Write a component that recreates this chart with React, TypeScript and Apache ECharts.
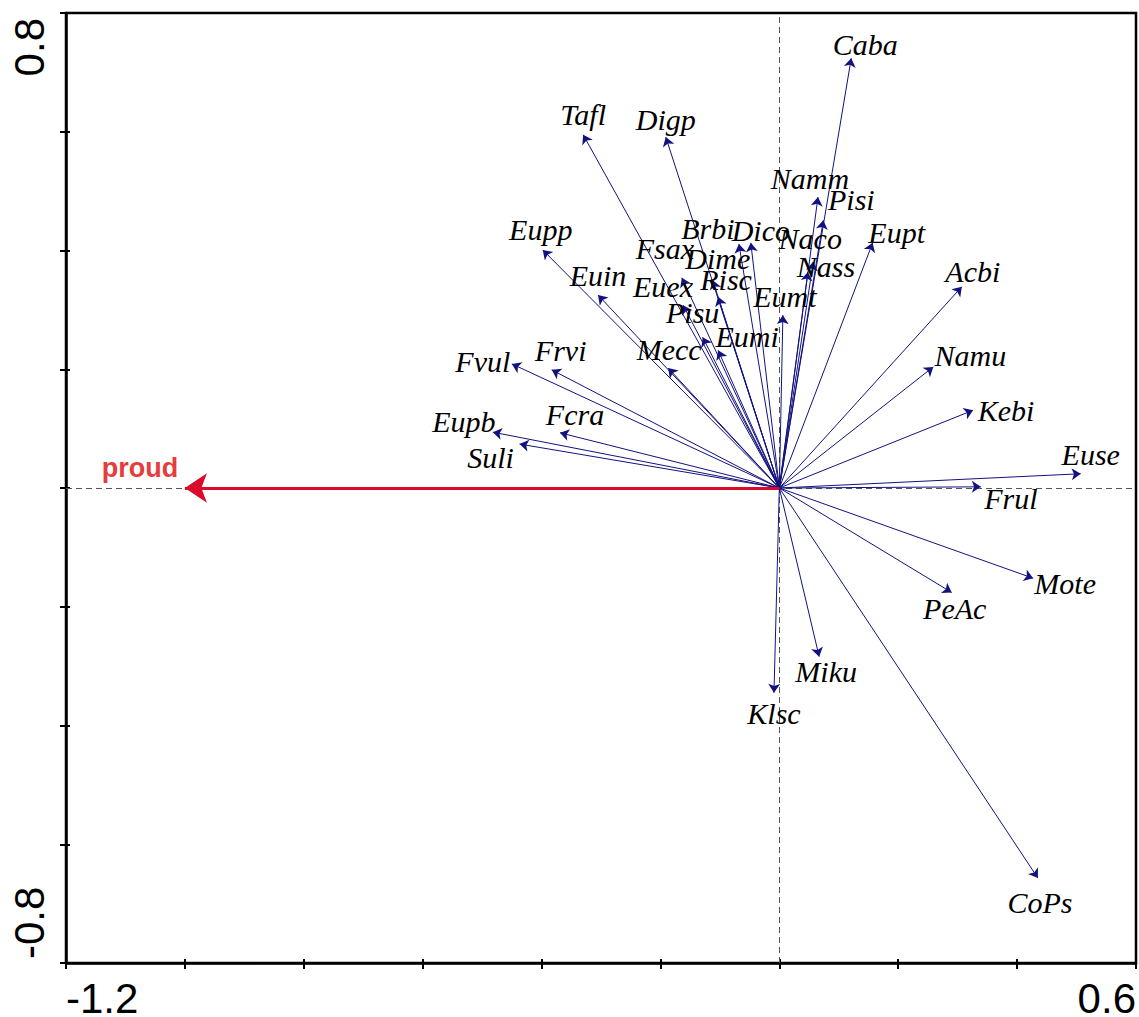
import React, { useEffect, useRef } from 'react';
import * as echarts from 'echarts';

// species scores (axis 1, axis 2)
const species = ['Caba','Tafl','Digp','Namm','Pisi','Naco','Nass','Eupt','Acbi','Namu','Kebi','Euse','Frul','Mote','PeAc','CoPs','Miku','Klsc','Eumt','Dico','Brbi','Fsax','Dime','Euex','Risc','Pisu','Eumi','Mecc','Euin','Eupp','Fvul','Frvi','Fcra','Eupb','Suli'];
const axis1 = [0.121,-0.330,-0.191,0.065,0.074,0.057,0.048,0.157,0.307,0.259,0.326,0.507,0.339,0.427,0.290,0.435,0.067,-0.009,0.006,-0.048,-0.068,-0.164,-0.112,-0.162,-0.103,-0.129,-0.103,-0.187,-0.305,-0.398,-0.450,-0.383,-0.369,-0.482,-0.437];
const axis2 = [0.724,0.595,0.591,0.490,0.451,0.381,0.364,0.413,0.339,0.204,0.131,0.024,0.002,-0.152,-0.176,-0.657,-0.284,-0.345,0.291,0.413,0.411,0.354,0.350,0.308,0.322,0.254,0.232,0.202,0.325,0.401,0.209,0.199,0.093,0.094,0.074];

// label placement relative to arrow tip (pixels)
const labelDx = [14,0,0,-8,28,-3,18,24,11,37,33,10,30,32,3,2,7,0,2,10,-31,-17,5,-20,8,-10,29,1,0,-2,-29,9,15,-29,-29];
const labelDy = [-14,-20,-18,-19,-21,-23,-5,-10,-15,-11,0,-19,12,5,16,24,15,21,-19,-12,-15,-29,-22,-19,-17,-25,-14,-19,-20,-20,-2,-19,-18,-11,13];

// environmental variable
const envNames = ['proud'];
const envAxis1 = [-1.0];
const envAxis2 = [0.0];

const xRange = [-1.2, 0.6];
const yRange = [-0.8, 0.8];
const tickStep = 0.2;

const ARROW = '#12127f';
const RED = '#dc0a2c';

export default function App() {
  const ref = useRef<HTMLDivElement>(null);
  useEffect(() => {
    document.body.style.margin = '0';
    const chart = echarts.init(ref.current!, null, { renderer: 'svg' });
    const axisCommon = (pos: string, inside: boolean, len: number, showLine: boolean) => ({
      type: 'value',
      position: pos,
      interval: tickStep,
      axisLine: { show: showLine, onZero: false, lineStyle: { color: '#000', width: 2.5 } },
      axisTick: { show: true, inside, length: len, lineStyle: { color: '#000', width: 2 } },
      axisLabel: { show: false },
      splitLine: { show: false },
    });
    const labelBase = {
      show: true,
      position: 'inside',
      formatter: (p: any) => p.name,
      textBorderWidth: 0,
      textShadowBlur: 0,
      opacity: 1,
    };
    const option: any = {
      animation: false,
      backgroundColor: '#fff',
      grid: { left: 66, top: 13, width: 1070, height: 950, show: true, borderColor: '#000', borderWidth: 2.5, backgroundColor: 'transparent' },
      xAxis: [
        { ...axisCommon('bottom', false, 6, true), min: xRange[0], max: xRange[1] },
        { ...axisCommon('bottom', true, 4, false), min: xRange[0], max: xRange[1] },
      ],
      yAxis: [
        { ...axisCommon('left', false, 6, true), min: yRange[0], max: yRange[1] },
        { ...axisCommon('left', true, 4, false), min: yRange[0], max: yRange[1] },
      ],
      series: [
        {
          type: 'lines',
          coordinateSystem: 'cartesian2d',
          silent: true,
          symbol: ['none', 'none'],
          lineStyle: { type: [6, 4], color: '#555', width: 1, opacity: 1 },
          data: [
            { coords: [[0, yRange[0]], [0, yRange[1]]] },
            { coords: [[xRange[0], 0], [xRange[1], 0]] },
          ],
          z: 1,
        },
        {
          type: 'lines',
          coordinateSystem: 'cartesian2d',
          symbol: ['none', 'arrow'],
          symbolSize: 9,
          lineStyle: { color: ARROW, width: 1, opacity: 1 },
          data: species.map((s, i) => ({ name: s, coords: [[0, 0], [axis1[i], axis2[i]]] })),
          z: 3,
        },
        {
          type: 'lines',
          coordinateSystem: 'cartesian2d',
          symbol: ['none', 'arrow'],
          symbolSize: 22,
          lineStyle: { color: RED, width: 3, opacity: 1 },
          data: envNames.map((s, i) => ({ name: s, coords: [[0, 0], [envAxis1[i], envAxis2[i]]] })),
          z: 4,
        },
        {
          type: 'scatter',
          symbolSize: 0,
          silent: true,
          itemStyle: { opacity: 1 },
          z: 5,
          label: {
            ...labelBase,
            fontFamily: 'Liberation Serif',
            fontStyle: 'italic',
            fontSize: 30,
            color: '#000',
          },
          data: species.map((s, i) => ({
            name: s,
            value: [axis1[i], axis2[i]],
            label: { offset: [labelDx[i], labelDy[i]] },
          })),
        },
        {
          type: 'scatter',
          symbolSize: 0,
          silent: true,
          itemStyle: { opacity: 1 },
          z: 5,
          label: {
            ...labelBase,
            fontFamily: 'Liberation Sans',
            fontWeight: 'bold',
            fontSize: 27,
            color: '#e63c3c',
            offset: [-45, -20],
          },
          data: envNames.map((s, i) => ({ name: s, value: [envAxis1[i], envAxis2[i]] })),
        },
      ],
    };
    chart.setOption(option);
    const pMin = chart.convertToPixel({ gridIndex: 0 }, [xRange[0], yRange[0]]) as number[];
    const pMax = chart.convertToPixel({ gridIndex: 0 }, [xRange[1], yRange[1]]) as number[];
    const font = '42px "Liberation Sans", Arial, sans-serif';
    chart.setOption({
      graphic: [
        { type: 'text', x: pMin[0], y: pMin[1] + 14, style: { text: String(xRange[0]), font, fill: '#000', align: 'left', verticalAlign: 'top' } },
        { type: 'text', x: pMax[0], y: pMin[1] + 14, style: { text: String(xRange[1]), font, fill: '#000', align: 'right', verticalAlign: 'top' } },
        { type: 'text', x: pMin[0] - 37, y: pMax[1] + 5, rotation: Math.PI / 2, style: { text: String(yRange[1]), font, fill: '#000', align: 'right', verticalAlign: 'middle' } },
        { type: 'text', x: pMin[0] - 37, y: pMin[1] - 4, rotation: Math.PI / 2, style: { text: String(yRange[0]), font, fill: '#000', align: 'left', verticalAlign: 'middle' } },
      ],
    });
    return () => chart.dispose();
  }, []);
  return <div ref={ref} style={{ width: 1139, height: 1017 }} />;
}
